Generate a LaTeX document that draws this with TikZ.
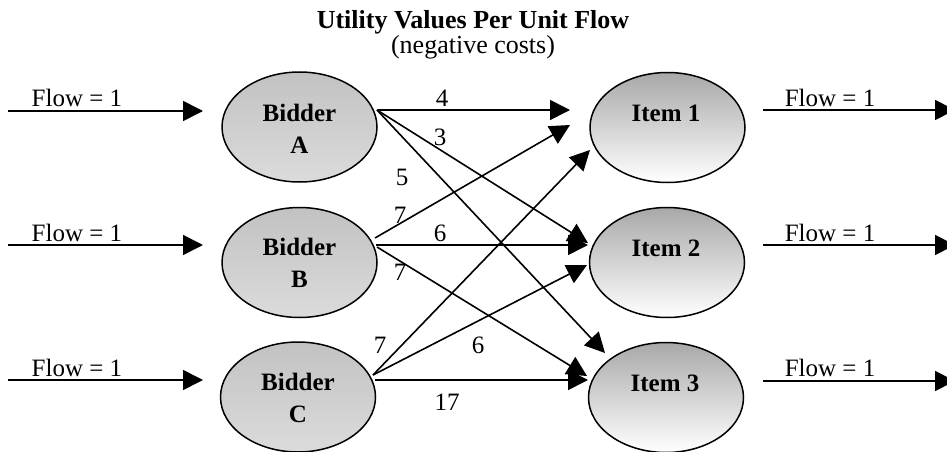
\documentclass[tikz,border=0pt]{standalone}
\usepackage{fontspec}
\setmainfont{Liberation Serif}
\usetikzlibrary{shapes.geometric,arrows.meta}
\definecolor{itemtop}{rgb}{0.66,0.66,0.66}
\definecolor{itemmid}{rgb}{0.82,0.82,0.82}
\definecolor{itembot}{rgb}{1,1,1}
\definecolor{bidtop}{rgb}{0.76,0.76,0.76}
\definecolor{bidbot}{rgb}{0.86,0.86,0.86}
\begin{document}
\begin{tikzpicture}[x=1pt,y=-1pt,
  every node/.style={font=\fontsize{25}{32}\selectfont},
  oval/.style={ellipse,draw=black,line width=1.5pt,minimum width=155pt,minimum height=110pt,inner sep=0pt},
  bidder/.style={oval,top color=bidtop,bottom color=bidbot},
  item/.style={oval,top color=itemtop,middle color=itemmid,bottom color=itembot},
  nodetext/.style={font=\fontsize{25}{32}\selectfont\bfseries,align=center,inner sep=0pt},
  arc/.style={line width=1.6pt,-{Triangle[length=20pt,width=20pt]}},
  num/.style={inner sep=0pt}
]
\useasboundingbox[fill=white] (0,0) rectangle (947,452);

% title
\node[anchor=base,font=\fontsize{26}{30}\selectfont\bfseries] (title) at (473,29) {Utility Values Per Unit Flow};
\node[anchor=base,font=\fontsize{26}{30}\selectfont] (subtitle) at (473,53) {(negative costs)};

% ellipses
\node[bidder] (A) at (299.5,127) {};
\node[bidder] (B) at (299.5,262.5) {};
\node[bidder] (C) at (298,397) {};
\node[item] (I1) at (667.5,127.5) {};
\node[item] (I2) at (667,262.5) {};
\node[item] (I3) at (666,397.5) {};

\node[nodetext] (At) at (299.5,129) {Bidder\\A};
\node[nodetext] (Bt) at (299.5,263) {Bidder\\B};
\node[nodetext] (Ct) at (298,398) {Bidder\\C};
\node[nodetext] (I1t) at (666,113) {Item 1};
\node[nodetext] (I2t) at (666,248) {Item 2};
\node[nodetext] (I3t) at (665,383) {Item 3};

% input / output coordinates
\coordinate (inA) at (8,111);   \coordinate (inAe) at (203,111);
\coordinate (inB) at (8,245);   \coordinate (inBe) at (203,245);
\coordinate (inC) at (8,380);   \coordinate (inCe) at (203,380);
\coordinate (out1) at (763,110); \coordinate (out1e) at (955,110);
\coordinate (out2) at (763,245); \coordinate (out2e) at (955,245);
\coordinate (out3) at (763,381); \coordinate (out3e) at (955,381);

\draw[arc] (inA) -- (inAe);
\draw[arc] (inB) -- (inBe);
\draw[arc] (inC) -- (inCe);
\draw[arc] (out1) -- (out1e);
\draw[arc] (out2) -- (out2e);
\draw[arc] (out3) -- (out3e);

\node (fA) at (77,98) {Flow = 1};
\node (fB) at (77,233) {Flow = 1};
\node (fC) at (77,368) {Flow = 1};
\node (f1) at (830,98) {Flow = 1};
\node (f2) at (830,233) {Flow = 1};
\node (f3) at (830,368) {Flow = 1};

% bidder -> item connectors
\coordinate (As) at (377,110);
\coordinate (Bs1) at (375,238);
\coordinate (Bs2) at (376,245);
\coordinate (Bs3) at (377,247);
\coordinate (Cs) at (373,375);
\coordinate (Cs3) at (375,380);
\coordinate (A1) at (570,110);
\coordinate (A2) at (588,243);
\coordinate (A3) at (605,353);
\coordinate (B1) at (570,125);
\coordinate (B2) at (588,245);
\coordinate (B3) at (587,376);
\coordinate (C1) at (590,150);
\coordinate (C2) at (587,265);
\coordinate (C3) at (588,380);

\draw[arc] (As) -- (A1);
\draw[arc] (As) -- (A2);
\draw[arc] (As) -- (A3);
\draw[arc] (Bs1) -- (B1);
\draw[arc] (Bs2) -- (B2);
\draw[arc] (Bs3) -- (B3);
\draw[arc] (Cs) -- (C1);
\draw[arc] (Cs) -- (C2);
\draw[arc] (Cs3) -- (C3);

% values
\node[num] (vA1) at (442,98) {4};
\node[num] (vA2) at (440,137) {3};
\node[num] (vA3) at (402,177) {5};
\node[num] (vB1) at (400,215) {7};
\node[num] (vB2) at (440,233) {6};
\node[num] (vB3) at (400,272) {7};
\node[num] (vC1) at (380,345) {7};
\node[num] (vC2) at (478,345) {6};
\node[num] (vC3) at (447,402) {17};
\end{tikzpicture}
\end{document}
